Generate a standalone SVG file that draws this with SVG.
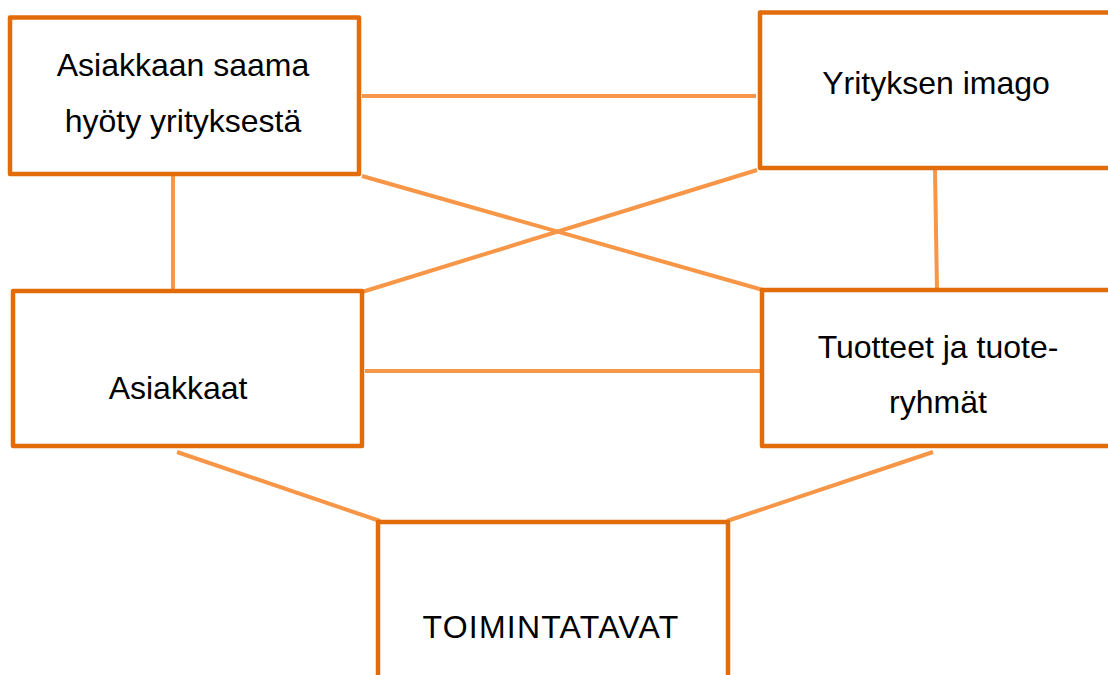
<svg xmlns="http://www.w3.org/2000/svg" width="1108" height="675" viewBox="0 0 1108 675">
<style>
.box{fill:#fff;stroke:#E36C0A;stroke-width:4.5;stroke-linejoin:round}
.ln{stroke:#F79646;stroke-width:4;fill:none}
.t{font-family:"Liberation Sans",Arial,sans-serif;font-size:32px;fill:#000;text-anchor:middle}
</style>
<rect width="1108" height="675" fill="#fff"/>
<g id="connectors">
<line class="ln" x1="362" y1="96" x2="756" y2="96"/>
<line class="ln" x1="173" y1="176" x2="173" y2="289"/>
<line class="ln" x1="935" y1="170" x2="937" y2="290"/>
<line class="ln" x1="362" y1="176" x2="763" y2="290"/>
<line class="ln" x1="757" y1="170" x2="362" y2="292"/>
<line class="ln" x1="365" y1="371" x2="760" y2="371"/>
<line class="ln" x1="177" y1="452" x2="380" y2="521"/>
<line class="ln" x1="933" y1="452" x2="727" y2="521"/>
</g>
<g id="node-asiakkaan-hyoty">
<rect class="box" x="10" y="17.5" width="349" height="156.5"/>
<text class="t" x="183" y="76">Asiakkaan saama</text>
<text class="t" x="183" y="132">hyöty yrityksestä</text>
</g>
<g id="node-yrityksen-imago">
<rect class="box" x="760" y="12.5" width="352" height="155.5"/>
<text class="t" x="936" y="94">Yrityksen imago</text>
</g>
<g id="node-asiakkaat">
<rect class="box" x="13" y="291" width="349" height="155"/>
<text class="t" x="178" y="399">Asiakkaat</text>
</g>
<g id="node-tuotteet">
<rect class="box" x="762" y="290" width="350" height="156"/>
<text class="t" x="938" y="358">Tuotteet ja tuote-</text>
<text class="t" x="938" y="413">ryhmät</text>
</g>
<g id="node-toimintatavat">
<rect class="box" x="378" y="522" width="350" height="170"/>
<text class="t" x="551" y="638" letter-spacing="1.2">TOIMINTATAVAT</text>
</g>
</svg>
